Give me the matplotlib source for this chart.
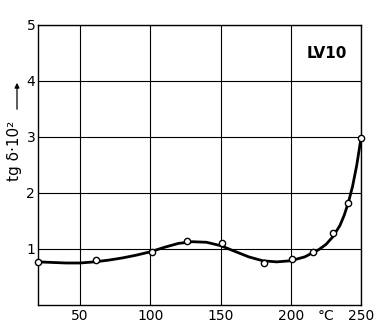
import numpy as np
from matplotlib import pyplot as plt

# Measured points (temperature in degC, tg delta * 10^2)
temp_pts = [20, 61, 101, 126, 151, 181, 201, 216, 230, 241, 250]
tan_pts = [0.77, 0.80, 0.95, 1.14, 1.10, 0.75, 0.82, 0.94, 1.29, 1.83, 2.98]

# Faired curve drawn through the measurements
temp_curve = [20, 30, 40, 50, 60, 70, 80, 90, 100, 110, 120, 130, 140, 150,
              160, 170, 180, 190, 200, 210, 220, 225, 230, 235, 238, 241,
              244, 247, 250]
tan_curve = [0.77, 0.76, 0.75, 0.75, 0.77, 0.80, 0.84, 0.89, 0.95, 1.03, 1.10,
             1.13, 1.12, 1.06, 0.96, 0.86, 0.79, 0.77, 0.79, 0.86, 0.99, 1.08,
             1.22, 1.42, 1.60, 1.83, 2.12, 2.50, 2.98]

x_ticks = [50, 100, 150, 200, 250]
y_ticks = [1, 2, 3, 4, 5]

fig = plt.figure(figsize=(3.84, 3.23), dpi=100)
ax = fig.add_axes([38 / 384, 18 / 323, 323 / 384, 280 / 323])

ax.plot(temp_curve, tan_curve, color='black', lw=2.0, zorder=3)
ax.plot(temp_pts, tan_pts, 'o', ms=4.5, mfc='white', mec='black', mew=1.0,
        zorder=4, clip_on=False)

ax.set_xlim(20, 250)
ax.set_ylim(0, 5)
ax.set_xticks(x_ticks)
ax.set_yticks(y_ticks)
ax.tick_params(length=0, labelsize=10, pad=3)
ax.tick_params(axis='y', pad=2)
ax.grid(True, color='black', lw=0.8)
for s in ax.spines.values():
    s.set_linewidth(1.0)

ax.text(225, -0.08, '°C', ha='center', va='top', fontsize=10)
ax.text(0.895, 0.90, 'LV10', transform=ax.transAxes, ha='center', va='center',
        fontsize=11, fontweight='bold')

# y axis label with arrow pointing up
fig.text(15 / 384, 1 - 151 / 323, 'tg δ·10²', rotation=90,
         ha='center', va='center', fontsize=11)
fig.patches.append(plt.matplotlib.patches.FancyArrowPatch(
    (17 / 384, 1 - 112 / 323), (17 / 384, 1 - 80 / 323),
    transform=fig.transFigure, arrowstyle='-|>', mutation_scale=7,
    color='black', lw=0.9))

fig.savefig('out.png', dpi=100)
